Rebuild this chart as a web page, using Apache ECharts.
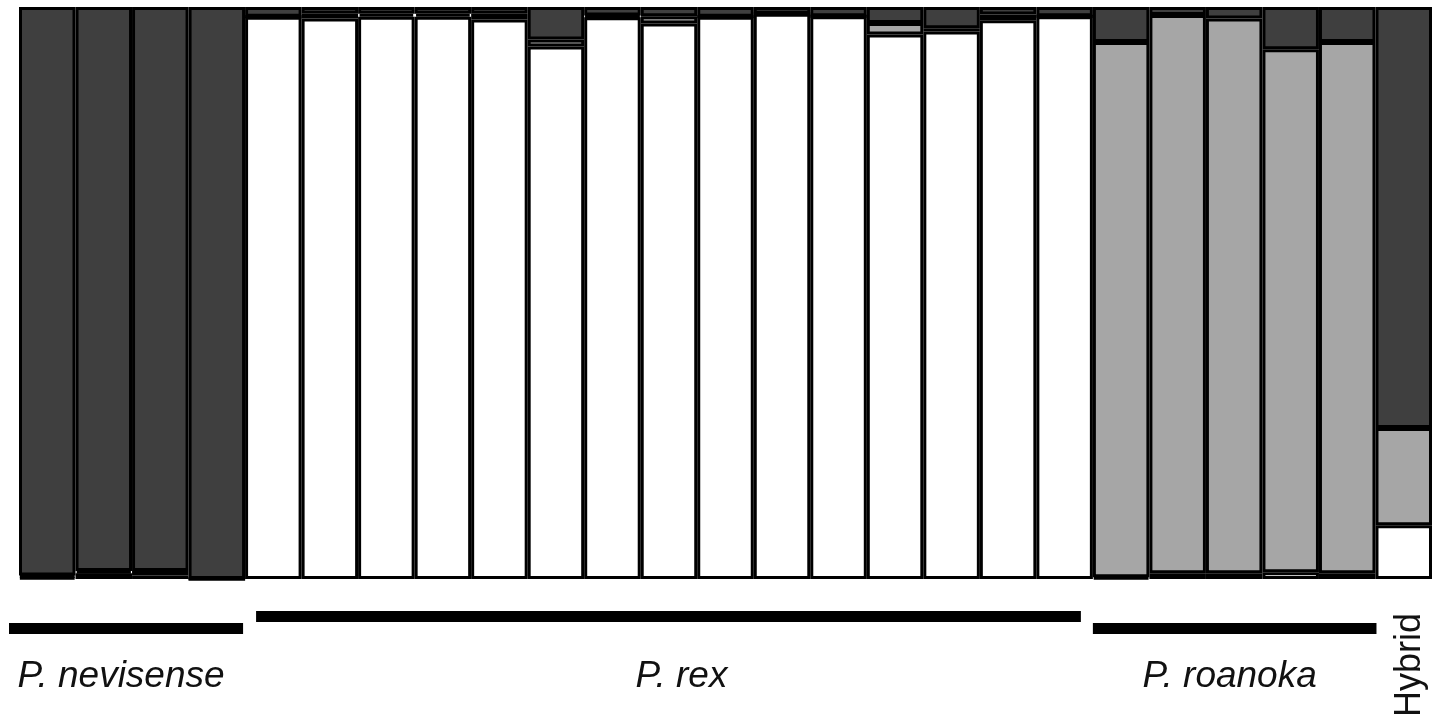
<!DOCTYPE html>
<html>
<head>
<meta charset="utf-8">
<script src="https://cdn.jsdelivr.net/npm/echarts@6/dist/echarts.min.js"></script>
<style>
html,body{margin:0;padding:0;background:#fff;}
#chart{width:1444px;height:723px;}
</style>
</head>
<body>
<div id="chart"></div>
<script>
// Individuals (bars), grouped by species
const individuals = ['N1','N2','N3','N4',
  'R1','R2','R3','R4','R5','R6','R7','R8','R9','R10','R11','R12','R13','R14','R15',
  'O1','O2','O3','O4','O5','H1'];

// Membership proportions per cluster (bottom -> top: white, gray, dark)
const clusterWhite = [0.003,0.010,0.006,0.000,
  0.983,0.980,0.983,0.983,0.978,0.931,0.982,0.971,0.983,0.988,0.984,0.952,0.957,0.977,0.984,
  0.003,0.010,0.010,0.012,0.010,0.094];
const clusterGray = [0.003,0.004,0.008,0.000,
  0.000,0.008,0.005,0.005,0.010,0.012,0.003,0.013,0.000,0.000,0.000,0.020,0.006,0.010,0.000,
  0.936,0.976,0.970,0.914,0.929,0.170];
const clusterDark = [0.994,0.986,0.986,1.000,
  0.017,0.012,0.012,0.012,0.012,0.057,0.015,0.016,0.017,0.012,0.016,0.028,0.037,0.013,0.016,
  0.061,0.014,0.020,0.074,0.061,0.736];

// Group annotations (by bar index range)
const groupNames = ['P. nevisense','P. rex','P. roanoka','Hybrid'];
const groupStart = [0,4,19,24];
const groupEnd = [3,18,23,24];

const chart = echarts.init(document.getElementById('chart'));
const barStyle = (c) => ({color:c, borderColor:'#000000', borderWidth:3});
chart.setOption({
  animation:false,
  backgroundColor:'#ffffff',
  grid:{left:19,right:12,top:7,bottom:144},
  xAxis:{type:'category',data:individuals,show:false,boundaryGap:true},
  yAxis:{type:'value',min:0,max:1,show:false},
  series:[
    {type:'bar',stack:'q',data:clusterWhite,itemStyle:barStyle('#ffffff'),barCategoryGap:'0%'},
    {type:'bar',stack:'q',data:clusterGray,itemStyle:barStyle('#a6a6a6'),barCategoryGap:'0%'},
    {type:'bar',stack:'q',data:clusterDark,itemStyle:barStyle('#3f3f3f'),barCategoryGap:'0%'}
  ]
});

// Build group lines and labels from the category scale
const c0 = chart.convertToPixel({xAxisIndex:0}, 0);
const c1 = chart.convertToPixel({xAxisIndex:0}, 1);
const bw = c1 - c0;
const lineAdj = [[-10,-2,628],[11,-12,616],[0,1,628]]; // [left inset, right inset, y]
const graphics = [];
for (let g = 0; g < 3; g++) {
  const xs = chart.convertToPixel({xAxisIndex:0}, groupStart[g]) - bw/2 + lineAdj[g][0];
  const xe = chart.convertToPixel({xAxisIndex:0}, groupEnd[g]) + bw/2 + lineAdj[g][1];
  graphics.push({type:'rect',shape:{x:xs,y:lineAdj[g][2]-5,width:xe-xs,height:11},style:{fill:'#000'},z:10});
  graphics.push({type:'text',x:(xs+xe)/2 + (g===1?13:-5),y:677,
    style:{text:groupNames[g],font:'italic 37px "Liberation Sans", Arial, sans-serif',fill:'#111',align:'center',verticalAlign:'middle'},z:10});
}
const hx = chart.convertToPixel({xAxisIndex:0}, groupStart[3]);
graphics.push({type:'text',x:hx+6,y:665,rotation:Math.PI/2,
  style:{text:groupNames[3],font:'36px "Liberation Sans", Arial, sans-serif',fill:'#111',align:'center',verticalAlign:'middle'},z:10});
chart.setOption({graphic:graphics});
</script>
</body>
</html>
